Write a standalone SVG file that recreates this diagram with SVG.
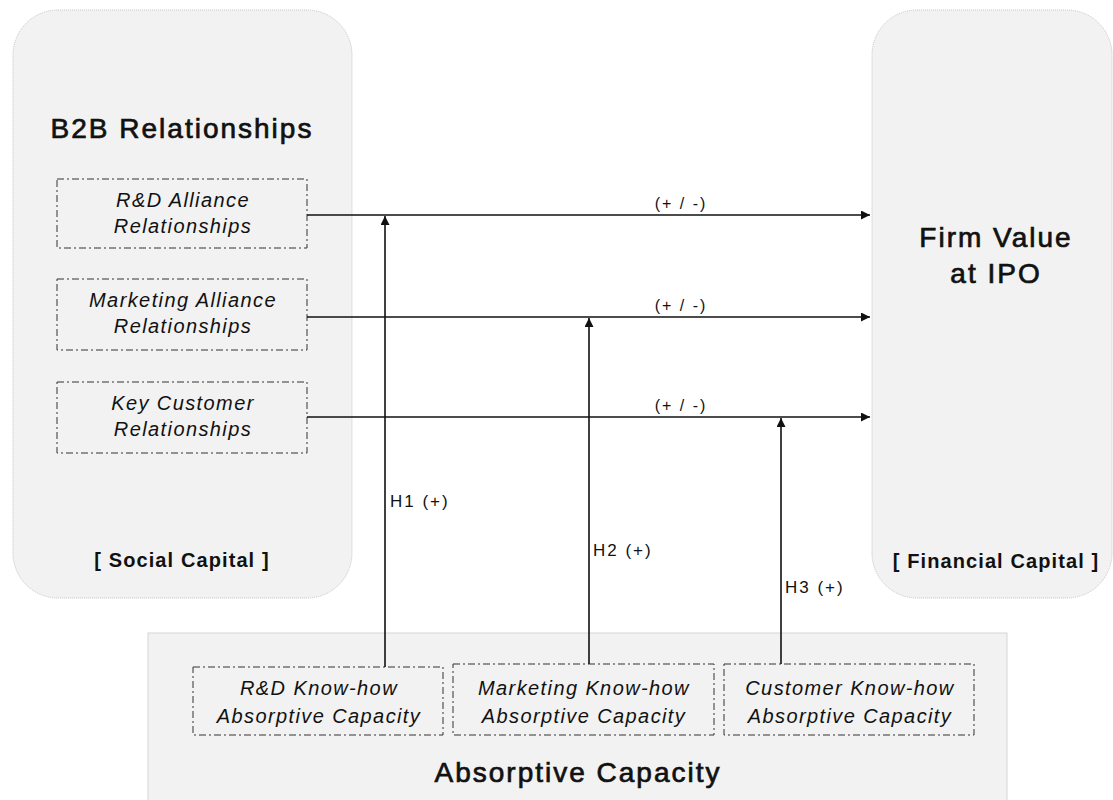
<svg xmlns="http://www.w3.org/2000/svg" width="1113" height="800" viewBox="0 0 1113 800">
  <style>
    .panel { fill: #f2f2f2; stroke: #c4c4c4; stroke-width: 1; stroke-dasharray: 1 1; }
    .band { fill: #f2f2f2; stroke: #d6d6d6; stroke-width: 1; }
    .item { fill: none; stroke: #333; stroke-width: 1; stroke-dasharray: 7 3 2 3; }
    .title { font-family: "Liberation Sans", Arial, sans-serif; font-size: 28px; fill: #111; stroke: #111; stroke-width: 0.7; letter-spacing: 2px; text-anchor: middle; }
    .tag { font-family: "Liberation Sans", Arial, sans-serif; font-size: 20px; font-weight: bold; fill: #111; letter-spacing: 1.1px; text-anchor: middle; }
    .label { font-family: "Liberation Sans", Arial, sans-serif; font-size: 20px; font-style: italic; fill: #111; letter-spacing: 1.4px; text-anchor: middle; }
    .sign { font-family: "Liberation Sans", Arial, sans-serif; font-size: 16px; fill: #111; letter-spacing: 2px; text-anchor: middle; }
    .hyp { font-family: "Liberation Sans", Arial, sans-serif; font-size: 17px; fill: #111; letter-spacing: 2px; }
    .link { fill: none; stroke: #111; stroke-width: 1.6; }
  </style>
  <defs>
    <marker id="arrow" viewBox="0 0 10 10" refX="10" refY="5" markerWidth="10" markerHeight="9" markerUnits="userSpaceOnUse" orient="auto">
      <path d="M0,0 L10,5 L0,10 Z" fill="#111"/>
    </marker>
  </defs>

  <!-- Social capital panel -->
  <g id="b2b-relationships">
    <rect class="panel" x="13" y="10" width="339" height="588" rx="45" ry="45"/>
    <text class="title" x="182" y="138">B2B Relationships</text>
    <text class="tag" x="182" y="567">[ Social Capital ]</text>
  </g>

  <g id="rd-alliance">
    <rect class="item" x="57" y="179" width="250" height="69"/>
    <text class="label" x="183" y="207">R&amp;D Alliance</text>
    <text class="label" x="183" y="233">Relationships</text>
  </g>

  <g id="marketing-alliance">
    <rect class="item" x="57" y="279" width="250" height="71"/>
    <text class="label" x="183" y="307">Marketing Alliance</text>
    <text class="label" x="183" y="333">Relationships</text>
  </g>

  <g id="key-customer">
    <rect class="item" x="57" y="382" width="250" height="71"/>
    <text class="label" x="183" y="410">Key Customer</text>
    <text class="label" x="183" y="436">Relationships</text>
  </g>

  <!-- Financial capital panel -->
  <g id="firm-value">
    <rect class="panel" x="872" y="10" width="240" height="588" rx="45" ry="45"/>
    <text class="title" x="996" y="247">Firm Value</text>
    <text class="title" x="996" y="283">at IPO</text>
    <text class="tag" x="996" y="568">[ Financial Capital ]</text>
  </g>

  <!-- Absorptive capacity band -->
  <g id="absorptive-capacity">
    <rect class="band" x="148" y="633" width="859" height="172"/>
    <text class="title" x="578" y="782">Absorptive Capacity</text>
  </g>

  <g id="rd-knowhow">
    <rect class="item" x="193" y="667" width="250" height="68"/>
    <text class="label" x="319" y="695">R&amp;D Know-how</text>
    <text class="label" x="319" y="723">Absorptive Capacity</text>
  </g>

  <g id="marketing-knowhow">
    <rect class="item" x="453" y="664" width="261" height="71"/>
    <text class="label" x="584" y="695">Marketing Know-how</text>
    <text class="label" x="584" y="723">Absorptive Capacity</text>
  </g>

  <g id="customer-knowhow">
    <rect class="item" x="724" y="664" width="250" height="71"/>
    <text class="label" x="850" y="695">Customer Know-how</text>
    <text class="label" x="850" y="723">Absorptive Capacity</text>
  </g>

  <!-- Connectors -->
  <g id="connectors">
    <line class="link" x1="307" y1="215" x2="870" y2="215" marker-end="url(#arrow)"/>
    <line class="link" x1="307" y1="317" x2="870" y2="317" marker-end="url(#arrow)"/>
    <line class="link" x1="307" y1="417" x2="870" y2="417" marker-end="url(#arrow)"/>
    <text class="sign" x="681" y="209">(+ / -)</text>
    <text class="sign" x="681" y="311">(+ / -)</text>
    <text class="sign" x="681" y="411">(+ / -)</text>

    <line class="link" x1="385" y1="667" x2="385" y2="216" marker-end="url(#arrow)"/>
    <line class="link" x1="589" y1="664" x2="589" y2="318" marker-end="url(#arrow)"/>
    <line class="link" x1="781" y1="664" x2="781" y2="418" marker-end="url(#arrow)"/>
    <text class="hyp" x="390" y="507">H1 (+)</text>
    <text class="hyp" x="593" y="556">H2 (+)</text>
    <text class="hyp" x="785" y="593">H3 (+)</text>
  </g>
</svg>
